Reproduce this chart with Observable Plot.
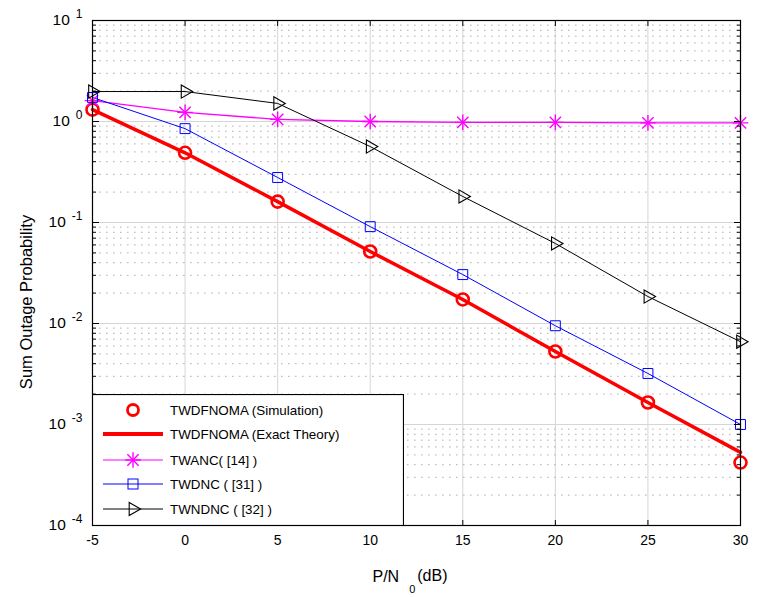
<!DOCTYPE html>
<html><head><meta charset="utf-8">
<script src="https://cdn.jsdelivr.net/npm/d3@7"></script>
<script src="https://cdn.jsdelivr.net/npm/@observablehq/plot@0.6"></script>
<style>
body{margin:0;background:#fff;font-family:"Liberation Sans",Arial,sans-serif}
#wrap{position:relative;width:771px;height:597px}
#legend{position:absolute;left:92px;top:394px}
</style></head><body><div id="wrap"></div>
<script>
const snrDb = [-5, 0, 5, 10, 15, 20, 25, 30];
const twdfnomaSim = [1.31, 0.49, 0.161, 0.0516, 0.0173, 0.00528, 0.00165, 0.00042];
const twdfnomaTheory = [1.31, 0.49, 0.161, 0.0516, 0.0173, 0.00528, 0.00165, 0.00053];
const twanc = [1.61, 1.23, 1.05, 1.0, 0.98, 0.98, 0.97, 0.97];
const twdnc = [1.73, 0.85, 0.279, 0.091, 0.0305, 0.0095, 0.0032, 0.001];
const twndnc = [1.98, 1.98, 1.51, 0.565, 0.181, 0.062, 0.0185, 0.0066];
const xTicks = [-5, 0, 5, 10, 15, 20, 25, 30];
const yDecades = [1e-4, 1e-3, 1e-2, 1e-1, 1, 10];
const yExponents = ["-4", "-3", "-2", "-1", "0", "1"];
const minorMultipliers = [2, 3, 4, 5, 6, 7, 8, 9];
const legendLabels = ["TWDFNOMA (Simulation)", "TWDFNOMA (Exact Theory)", "TWANC( [14] )", "TWDNC ( [31] )", "TWNDNC ( [32] )"];
const yLabel = "Sum Outage Probability";

const yMinor = yDecades.slice(0, -1).flatMap(d => minorMultipliers.map(m => d * m));
const rows = arr => snrDb.map((x, i) => ({x, y: arr[i]}));
const sim = rows(twdfnomaSim), theory = rows(twdfnomaTheory), anc = rows(twanc), dnc = rows(twdnc), ndnc = rows(twndnc);

const chart = Plot.plot({
  width: 771, height: 597,
  marginLeft: 92, marginRight: 31, marginTop: 20, marginBottom: 72,
  style: {fontFamily: "'Liberation Sans', Arial, sans-serif", fontSize: "14px", color: "#000", background: "#fff"},
  x: {domain: [-5, 30]},
  y: {type: "log", domain: [1e-4, 10]},
  marks: [
    Plot.ruleX(xTicks, {stroke: "#d6d6d6"}),
    Plot.ruleY(yMinor, {stroke: "#b0b0b0", strokeDasharray: "1.6,5.4"}),
    Plot.ruleY(yDecades, {stroke: "#d6d6d6"}),
    Plot.line(theory, {x: "x", y: "y", stroke: "#ff0000", strokeWidth: 3.5}),
    Plot.line(anc, {x: "x", y: "y", stroke: "#ff00ff", strokeWidth: 1.4}),
    Plot.line(dnc, {x: "x", y: "y", stroke: "#0000ff", strokeWidth: 1}),
    Plot.line(ndnc, {x: "x", y: "y", stroke: "#000", strokeWidth: 1}),
    Plot.dot(sim, {x: "x", y: "y", r: 6, stroke: "#ff0000", strokeWidth: 2.6, fill: "none"}),
    Plot.dot(anc, {x: "x", y: "y", symbol: "plus", r: 5.1, stroke: "#ff00ff", strokeWidth: 1.4}),
    Plot.dot(anc, {x: "x", y: "y", symbol: "times", r: 5.2, stroke: "#ff00ff", strokeWidth: 1.4}),
    Plot.dot(dnc, {x: "x", y: "y", symbol: "square", r: 5.6, stroke: "#0000ff", strokeWidth: 1, fill: "none"}),
    Plot.dot(ndnc, {x: "x", y: "y", symbol: "triangle", rotate: 90, r: 4.9, stroke: "#000", strokeWidth: 1.1, fill: "none"}),
    Plot.frame({stroke: "#000", strokeWidth: 1.2}),
    Plot.axisX(xTicks, {anchor: "bottom", tickSize: -5, fill: "none", label: null}),
    Plot.axisX(xTicks, {anchor: "top", tickSize: -5, fill: "none", label: null}),
    Plot.axisX(xTicks, {anchor: "bottom", tickSize: 0, tickPadding: 10, label: null, fontSize: 14, tickFormat: d => String(d)}),
    Plot.axisY(yDecades, {anchor: "left", tickSize: -7, fill: "none", label: null}),
    Plot.axisY(yDecades, {anchor: "right", tickSize: -7, fill: "none", label: null}),
    Plot.axisY(yMinor, {anchor: "left", tickSize: -4, fill: "none", label: null}),
    Plot.axisY(yMinor, {anchor: "right", tickSize: -4, fill: "none", label: null}),
    Plot.axisY(yDecades, {anchor: "left", tickSize: 0, tickPadding: 10, label: null, fontSize: 15.5, tickFormat: () => "10"})
  ]
});

document.getElementById("wrap").appendChild(chart);
const svg = d3.select(chart);

// superscript exponents on y tick labels
svg.selectAll('g[aria-label="y-axis tick label"] text').each(function(d, i) {
  d3.select(this).append("tspan").attr("dx", 6).attr("dy", -7).style("font-size", "12px").text(yExponents[i]);
});

// axis titles
svg.append("text")
  .attr("transform", "translate(26,302) rotate(-90)")
  .attr("text-anchor", "middle")
  .attr("dy", "0.35em")
  .style("font-size", "16.5px")
  .text(yLabel);

const xt = svg.append("text")
  .attr("x", 410).attr("y", 576)
  .attr("text-anchor", "middle")
  .attr("dy", "0.35em")
  .style("font-size", "16px");
xt.append("tspan").text("P/N");
xt.append("tspan").attr("dx", 10).attr("dy", 11).style("font-size", "11px").text("0");
xt.append("tspan").attr("dx", 2).attr("dy", -12).text("(dB)");

// legend
const lg = d3.select("#wrap").append("svg").attr("id", "legend").attr("width", 312).attr("height", 132);
lg.append("rect").attr("x", 0.5).attr("y", 0.5).attr("width", 311).attr("height", 131).attr("fill", "#fff").attr("stroke", "#000").attr("stroke-width", 1.2);
const rowsY = [16, 40, 66, 90, 115];
const lx1 = 11, lx2 = 71, sx = 41;
legendLabels.forEach((lab, i) => {
  lg.append("text").attr("x", 78).attr("y", rowsY[i]).attr("dy", "0.35em").style("font-size", "13.4px").text(lab);
});
lg.append("circle").attr("cx", sx).attr("cy", rowsY[0]).attr("r", 5.5).attr("fill", "none").attr("stroke", "#ff0000").attr("stroke-width", 2.8);
lg.append("line").attr("x1", lx1).attr("x2", lx2).attr("y1", rowsY[1]).attr("y2", rowsY[1]).attr("stroke", "#ff0000").attr("stroke-width", 4);
lg.append("line").attr("x1", lx1).attr("x2", lx2).attr("y1", rowsY[2]).attr("y2", rowsY[2]).attr("stroke", "#ff00ff").attr("stroke-width", 1.2);
lg.append("path").attr("transform", `translate(${sx},${rowsY[2]})`).attr("d", d3.symbol(d3.symbolPlus, Math.PI * 5.1 * 5.1)()).attr("fill", "none").attr("stroke", "#ff00ff").attr("stroke-width", 1.4);
lg.append("path").attr("transform", `translate(${sx},${rowsY[2]})`).attr("d", d3.symbol(d3.symbolTimes, Math.PI * 5.2 * 5.2)()).attr("fill", "none").attr("stroke", "#ff00ff").attr("stroke-width", 1.4);
lg.append("line").attr("x1", lx1).attr("x2", lx2).attr("y1", rowsY[3]).attr("y2", rowsY[3]).attr("stroke", "#0000ff").attr("stroke-width", 1);
lg.append("rect").attr("x", sx - 5).attr("y", rowsY[3] - 5).attr("width", 10).attr("height", 10).attr("fill", "none").attr("stroke", "#0000ff");
lg.append("line").attr("x1", lx1).attr("x2", lx2).attr("y1", rowsY[4]).attr("y2", rowsY[4]).attr("stroke", "#000").attr("stroke-width", 1);
lg.append("path").attr("transform", `translate(${sx},${rowsY[4]}) rotate(90)`).attr("d", d3.symbol(d3.symbolTriangle, Math.PI * 4.9 * 4.9)()).attr("fill", "none").attr("stroke", "#000").attr("stroke-width", 1.1);
</script>
</body></html>
